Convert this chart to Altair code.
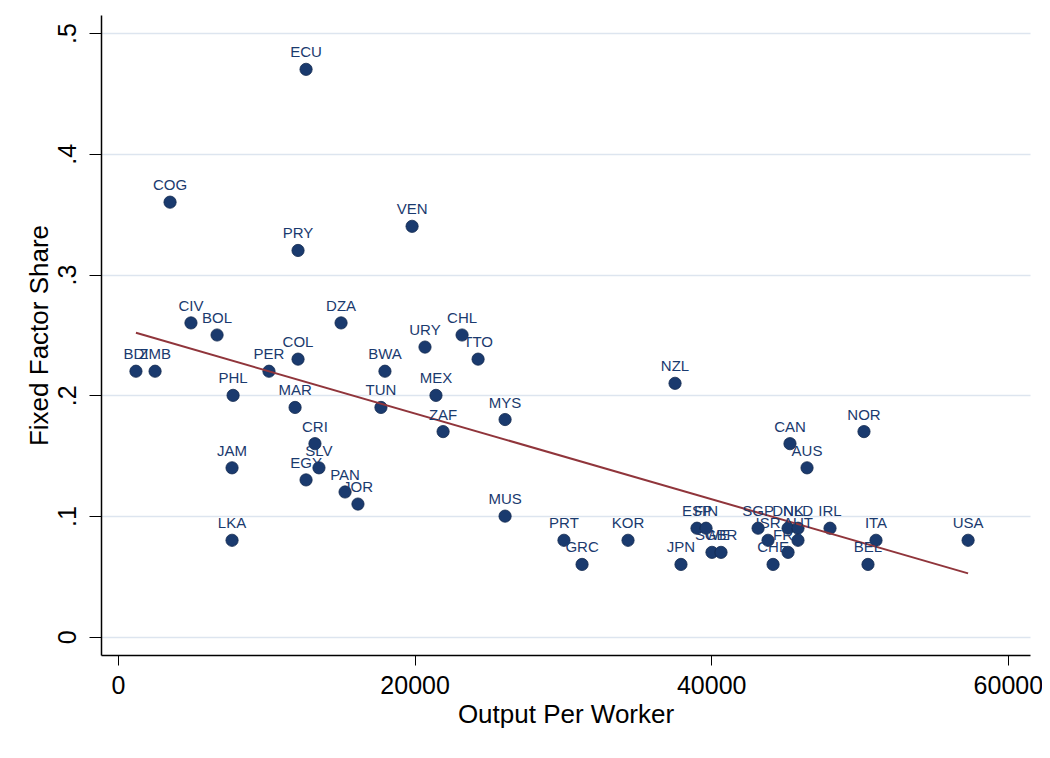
import altair as alt
import pandas as pd

countries = ["ECU","COG","PRY","VEN","CIV","BOL","DZA","CHL","URY","TTO","COL","BDI","ZMB","PER","BWA",
             "NZL","PHL","MEX","MAR","TUN","MYS","ZAF","NOR","CRI","CAN","JAM","SLV","AUS","EGY","PAN",
             "JOR","MUS","LKA","PRT","KOR","GRC","JPN","ESP","FIN","SWE","GBR","SGP","ISR","CHE","DNK",
             "FRA","NLD","AUT","IRL","ITA","BEL","USA"]
output_per_worker = [12680,3510,12140,19830,4920,6680,15040,23200,20700,24280,12140,1210,2500,10180,18000,
                     37560,7760,21440,11940,17730,26100,21920,50300,13280,45310,7690,13550,46460,12680,15310,
                     16180,26100,7690,30070,34390,31290,37960,39040,39650,40050,40660,43160,43830,44170,45180,
                     45180,45850,45850,48010,51110,50570,57320]
fixed_factor_share = [0.47,0.36,0.32,0.34,0.26,0.25,0.26,0.25,0.24,0.23,0.23,0.22,0.22,0.22,0.22,
                      0.21,0.20,0.20,0.19,0.19,0.18,0.17,0.17,0.16,0.16,0.14,0.14,0.14,0.13,0.12,
                      0.11,0.10,0.08,0.08,0.08,0.06,0.06,0.09,0.09,0.07,0.07,0.09,0.08,0.06,0.09,
                      0.07,0.09,0.08,0.09,0.08,0.06,0.08]

df = pd.DataFrame({"country": countries, "opw": output_per_worker, "ffs": fixed_factor_share})

NAVY = "#1a3a6e"
MAROON = "#90353b"
FONT = "Liberation Sans"

xs = alt.Scale(domain=[-1146, 61494], nice=False, zero=False)
ys = alt.Scale(domain=[-0.015, 0.515], nice=False, zero=False)

xax = alt.Axis(values=[0, 20000, 40000, 60000], title="Output Per Worker", grid=False,
               labelFontSize=25, titleFontSize=26, labelPadding=8, titlePadding=3,
               tickSize=10, tickColor="black", domainColor="black", domainWidth=1.5,
               labelColor="black", titleColor="black", labelFont=FONT, titleFont=FONT,
               titleFontWeight="normal", format="d")
yax = alt.Axis(values=[0, 0.1, 0.2, 0.3, 0.4, 0.5], title="Fixed Factor Share", grid=True,
               gridColor="#dde5ef", gridWidth=1.5,
               labelExpr="datum.value == 0 ? '0' : replace(format(datum.value, '.1f'), '0.', '.')",
               labelAngle=270, labelAlign="center", labelBaseline="bottom",
               labelFontSize=25, titleFontSize=26, labelPadding=9, titlePadding=3,
               tickSize=12, tickColor="black", domainColor="black", domainWidth=1.5,
               labelColor="black", titleColor="black", labelFont=FONT, titleFont=FONT,
               titleFontWeight="normal")

base = alt.Chart(df)

points = base.mark_circle(size=150, color=NAVY, opacity=1, stroke="#13294f", strokeWidth=0.8).encode(
    x=alt.X("opw:Q", scale=xs, axis=xax),
    y=alt.Y("ffs:Q", scale=ys, axis=yax),
)

labels = base.mark_text(fontSize=15, font=FONT, color=NAVY, baseline="alphabetic", align="center", dy=-12).encode(
    x=alt.X("opw:Q", scale=xs),
    y=alt.Y("ffs:Q", scale=ys),
    text="country:N",
)

fit = base.transform_regression("opw", "ffs").mark_line(color=MAROON, strokeWidth=2).encode(
    x=alt.X("opw:Q", scale=xs),
    y=alt.Y("ffs:Q", scale=ys),
)

chart = alt.layer(points, fit, labels).properties(
    width=929, height=640,
    autosize=alt.AutoSizeParams(type="none"),
    padding={"left": 93, "top": 7, "right": 12, "bottom": 95},
    background="white",
).configure_view(stroke=None)

chart.save("out.html", embed_options={"renderer": "svg", "actions": False})
